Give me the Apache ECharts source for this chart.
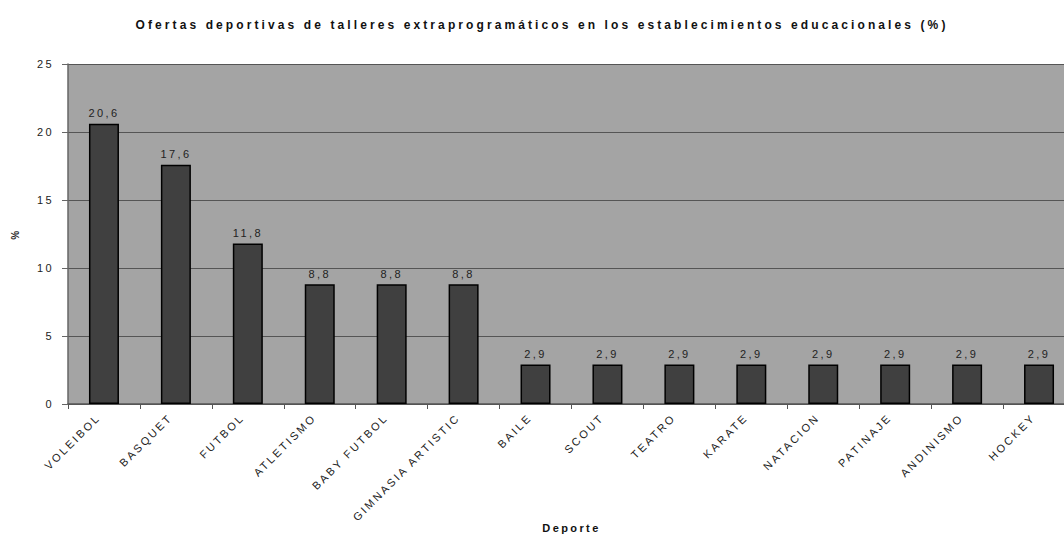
<!DOCTYPE html>
<html>
<head>
<meta charset="utf-8">
<style>
    html, body { margin: 0; padding: 0; background: #fff; }
    #main { width: 1064px; height: 536px; }
    /* texto espaciado como en el original */
    #main text { letter-spacing: 2.4px; }
    #main text.titulo { letter-spacing: 3.1px; }
</style>
</head>
<body>
<div id="main"></div>
<script src="https://cdn.jsdelivr.net/npm/echarts@6/dist/echarts.min.js"></script>
<script type="text/javascript">
    // datos
    var deportes = ['VOLEIBOL', 'BASQUET', 'FUTBOL', 'ATLETISMO', 'BABY FUTBOL', 'GIMNASIA ARTISTIC',
        'BAILE', 'SCOUT', 'TEATRO', 'KARATE', 'NATACION', 'PATINAJE', 'ANDINISMO', 'HOCKEY'];
    var porcentajes = [20.6, 17.6, 11.8, 8.8, 8.8, 8.8, 2.9, 2.9, 2.9, 2.9, 2.9, 2.9, 2.9, 2.9];
    var ejeY = [0, 5, 10, 15, 20, 25];

    var titulo = 'Ofertas deportivas de talleres extraprogramáticos en los establecimientos educacionales (%)';

    var myChart = echarts.init(document.getElementById('main'), null, {renderer: 'svg'});
    var option = {
        animation: false,
        textStyle: { fontFamily: 'Arial, "Liberation Sans", sans-serif' },
        title: {
            text: titulo,
            left: 537,
            top: 14,
            textAlign: 'center',
            textStyle: { fontSize: 12, fontWeight: 'bold', color: '#111', fontFamily: 'Arial, "Liberation Sans", sans-serif' }
        },
        grid: {
            left: 68,
            right: -11,
            top: 64,
            bottom: 132,
            containLabel: false,
            outerBoundsMode: 'none',
            show: true,
            backgroundColor: '#a4a4a4',
            borderWidth: 0
        },
        xAxis: {
            type: 'category',
            data: deportes,
            name: 'Deporte',
            nameLocation: 'middle',
            nameGap: 118,
            nameMoveOverlap: false,
            nameTextStyle: { fontSize: 11, fontWeight: 'bold', color: '#111' },
            axisLine: { lineStyle: { color: '#555', width: 1.5 } },
            axisTick: { show: true, length: 5, lineStyle: { color: '#555' } },
            axisLabel: { rotate: 45, fontSize: 11, color: '#222', margin: 6, padding: [0, 8, 0, 0] }
        },
        yAxis: {
            type: 'value',
            min: ejeY[0],
            max: ejeY[ejeY.length - 1],
            interval: 5,
            name: '%',
            nameLocation: 'middle',
            nameGap: 48,
            nameRotate: 90,
            nameMoveOverlap: false,
            nameTextStyle: { fontSize: 10, fontWeight: 'bold', color: '#222' },
            axisLine: { show: true, lineStyle: { color: '#666', width: 1.5 } },
            axisTick: { show: true, length: 6, lineStyle: { color: '#666' } },
            axisLabel: { fontSize: 11, color: '#222', margin: 14 },
            splitLine: { show: true, lineStyle: { color: '#555', width: 1.2 } }
        },
        series: [{
            type: 'bar',
            data: porcentajes,
            barWidth: 30,
            itemStyle: { color: '#404040', borderColor: '#000', borderWidth: 1.5 },
            label: {
                show: true,
                position: 'top',
                distance: 5,
                fontSize: 11,
                color: '#222',
                formatter: function (p) { return String(p.value).replace('.', ','); }
            }
        }]
    };
    myChart.setOption(option);

    // marcar el título para darle más espaciado
    var textos = document.querySelectorAll('#main text');
    for (var i = 0; i < textos.length; i++) {
        if (textos[i].textContent === titulo) textos[i].setAttribute('class', 'titulo');
    }
</script>
</body>
</html>
